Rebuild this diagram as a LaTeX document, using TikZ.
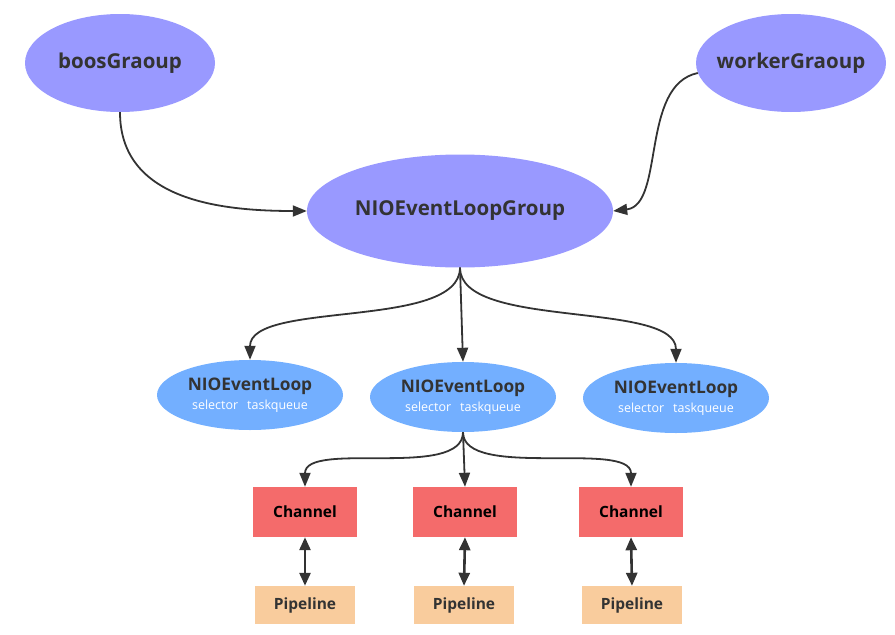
\documentclass[tikz,border=0pt]{standalone}
\usepackage{fontspec}
\setmainfont{Open Sans}
\usetikzlibrary{shapes.geometric,arrows.meta}
\definecolor{grp}{HTML}{9999FF}
\definecolor{loopc}{HTML}{73AFFF}
\definecolor{chan}{HTML}{F46B6B}
\definecolor{pipe}{HTML}{F9CC9D}
\definecolor{txt}{HTML}{333333}
\definecolor{ln}{HTML}{333333}
\tikzset{
  grpnode/.style={ellipse, fill=grp, inner ysep=0pt, inner xsep=-20pt, text=txt, font=\bfseries\fontsize{20.5}{24}\selectfont},
  loopnode/.style={ellipse, fill=loopc, inner sep=0pt, minimum width=186pt, minimum height=70pt, text=txt, align=center},
  chnode/.style={rectangle, fill=chan, minimum width=104pt, minimum height=50pt, inner sep=0pt, text=black, font=\bfseries\fontsize{15.5}{18}\selectfont},
  pipenode/.style={rectangle, fill=pipe, minimum width=100pt, minimum height=38pt, inner sep=0pt, text=txt, font=\bfseries\fontsize{15.5}{18}\selectfont},
  conn/.style={draw=ln, line width=1.8pt, -{Triangle[length=14pt,width=11pt]}},
  dconn/.style={draw=ln, line width=2.6pt, {Triangle[length=13pt,width=11pt]}-{Triangle[length=13pt,width=11pt]}},
}
\newcommand{\looptext}{{\bfseries\fontsize{17.3}{20}\selectfont NIOEventLoop}\\[4pt]{\color{white}\fontsize{12.5}{15}\selectfont selector\hspace{9pt}taskqueue}}
\begin{document}
\begin{tikzpicture}[x=1pt,y=-1pt]
\useasboundingbox (0,0) rectangle (895,635);
\node[grpnode, minimum width=190pt, minimum height=98pt] (boss) at (120,63) {boosGraoup};
\node[grpnode, minimum width=190pt, minimum height=98pt] (worker) at (791,63) {workerGraoup};
\node[grpnode, minimum width=306pt, minimum height=113pt] (group) at (460,211) {NIOEventLoopGroup};

\node[loopnode] (l1) at (250,395) {\looptext};
\node[loopnode] (l2) at (463,397) {\looptext};
\node[loopnode] (l3) at (676,398) {\looptext};

\node[chnode] (c1) at (305,512) {Channel};
\node[chnode] (c2) at (465,512) {Channel};
\node[chnode] (c3) at (631,512) {Channel};

\node[pipenode] (p1) at (305,605) {Pipeline};
\node[pipenode] (p2) at (464,605) {Pipeline};
\node[pipenode] (p3) at (632,605) {Pipeline};

\path (worker.west) ++(2,10) coordinate (wstart);

\draw[conn] (boss.south) .. controls (120,200) and (220,211) .. (group.west);
\draw[conn] (wstart) .. controls (640,85) and (665,205) .. (group.east);

\draw[conn] (group.south) .. controls (460,330) and (250,300) .. (l1.north);
\draw[conn] (group.south) -- (l2.north);
\draw[conn] (group.south) .. controls (460,330) and (676,300) .. (l3.north);

\draw[conn] (l2.south) .. controls (463,480) and (305,440) .. (c1.north);
\draw[conn] (l2.south) -- (c2.north);
\draw[conn] (l2.south) .. controls (463,480) and (631,440) .. (c3.north);

\draw[dconn] (c1.south) -- (p1.north);
\draw[dconn] (c2.south) -- (p2.north);
\draw[dconn] (c3.south) -- (p3.north);
\end{tikzpicture}
\end{document}
